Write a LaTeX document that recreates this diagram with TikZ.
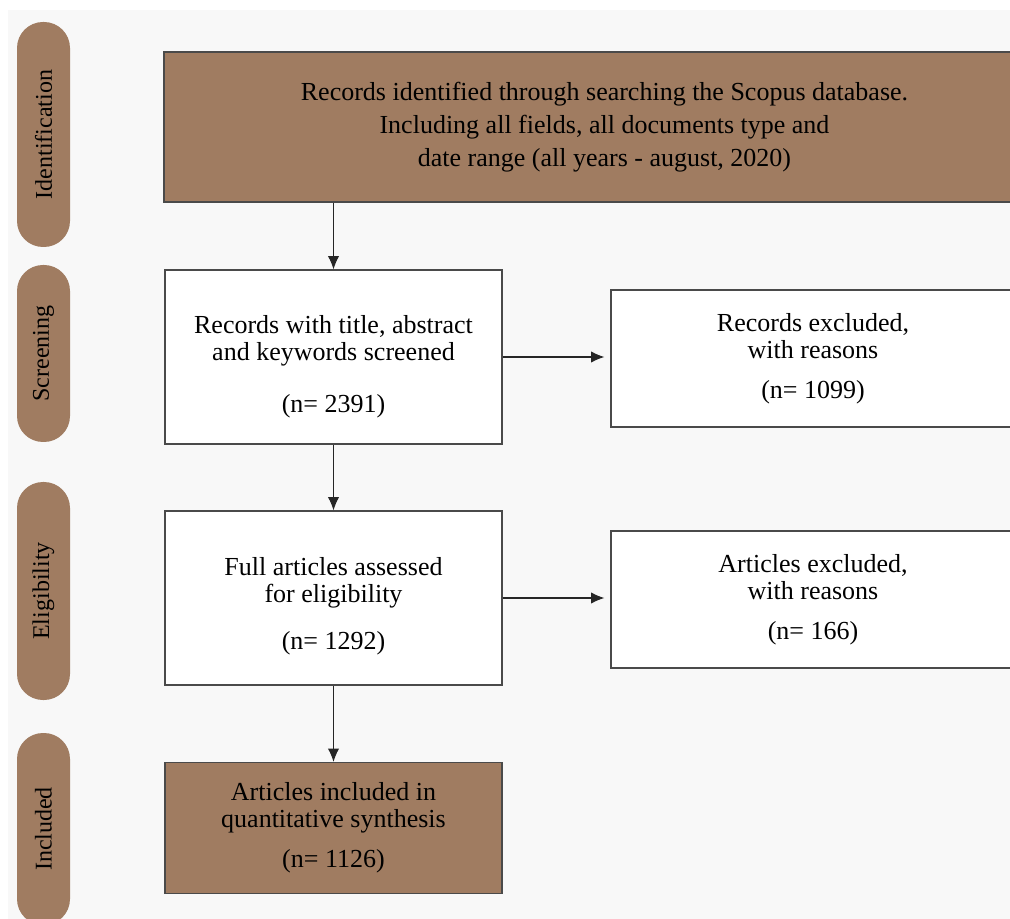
\documentclass[tikz,border=0pt]{standalone}
\usepackage{fontspec}
\setmainfont{Liberation Serif}
\usetikzlibrary{arrows.meta, shapes, positioning}
\definecolor{clay}{HTML}{A07C61}
\definecolor{paper}{HTML}{F8F8F8}
\definecolor{rim}{HTML}{4A4A4A}

\begin{document}
\begin{tikzpicture}[x=0.75pt, y=-0.75pt, font=\fontsize{19.5}{20.25}\selectfont]
\tikzstyle{phase}=[rectangle, fill=clay, rounded corners=19.5pt, minimum height=39.75pt, inner sep=0pt, rotate=90, font=\fontsize{18}{20}\selectfont]
\tikzstyle{stage}=[rectangle, draw=rim, line width=0.9pt, fill=white, align=center, inner sep=0pt]
\tikzstyle{stage_dark}=[stage, fill=clay]
\tikzstyle{link}=[-{Latex[length=10pt, width=8.5pt]}, draw=black!85, line width=0.8pt]
%
\useasboundingbox (0,0) rectangle (1010,919);
\fill[white] (0,0) rectangle (1010,919);
\fill[paper] (8,10) rectangle (1010,919);

% phases on the left
\node [phase, minimum width=168.75pt] (ident) at (43.5,134.5) {Identification};
\node [phase, minimum width=132.75pt] (screen) at (43.5,353.5) {Screening};
\node [phase, minimum width=163.5pt] (elig) at (43.5,591) {Eligibility};
\node [phase, minimum width=144pt] (incl) at (43.5,829) {Included};

% main flow
\node [stage_dark, minimum width=660.75pt, minimum height=112.5pt,
	font=\fontsize{19.5}{24.75}\selectfont] (search) at (604.5,127)
	{Records identified through searching the Scopus database.\\
	Including all fields, all documents type and\\
	date range (all years - august, 2020)};
\node [stage, minimum width=252.75pt, minimum height=130.5pt] (titles) at (333.5,357)
	{\strut\\[-6.75pt]Records with title, abstract\\and keywords screened\\[19pt](n= 2391)};
\node [stage, minimum width=252.75pt, minimum height=130.5pt] (full) at (333.5,598)
	{\strut\\[-8.25pt]Full articles assessed\\for eligibility\\[15pt](n= 1292)};
\node [stage_dark, minimum width=252.75pt, minimum height=98.25pt] (synth) at (333.5,828)
	{Articles included in\\quantitative synthesis\\[10pt](n= 1126)};

% exclusions
\node [stage, minimum width=303pt, minimum height=102.75pt] (rec_out) at (813,358.5)
	{Records excluded,\\with reasons\\[10pt](n= 1099)};
\node [stage, minimum width=303pt, minimum height=102.75pt] (art_out) at (813,599.5)
	{Articles excluded,\\with reasons\\[10pt](n= 166)};

% arrows
\draw [link] (search.south -| titles.north) -- (titles.north);
\draw [link] (titles) -- (full);
\draw [link] (full) -- (synth);
\draw [link] (titles.east) -- ([xshift=-4.5pt]titles.east -| rec_out.west);
\draw [link] (full.east) -- ([xshift=-4.5pt]full.east -| art_out.west);
\end{tikzpicture}
\end{document}
